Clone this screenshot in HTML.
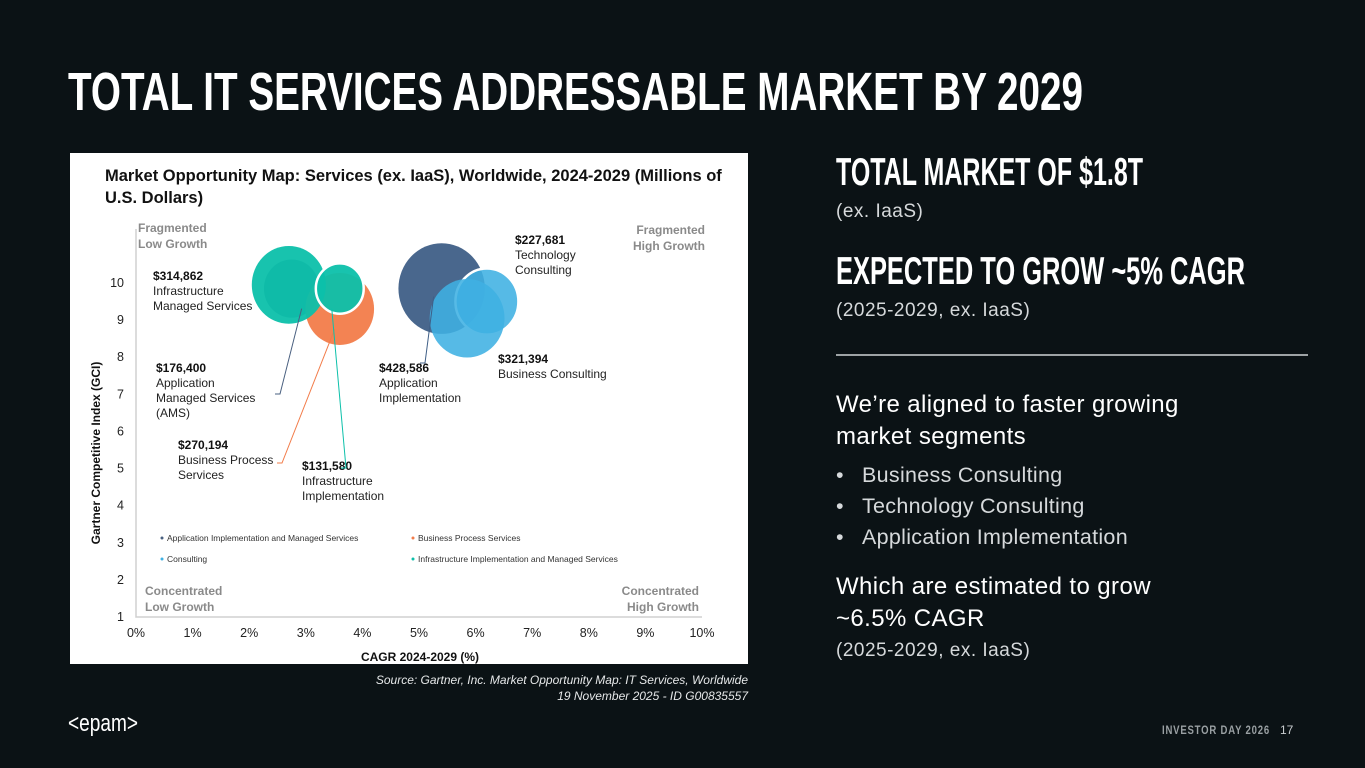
<!DOCTYPE html>
<html><head><meta charset="utf-8"><style>
html,body{margin:0;padding:0;}
body{width:1365px;height:768px;background:#0b1215;position:relative;overflow:hidden;font-family:"Liberation Sans",sans-serif;color:#fff;}
.abs{position:absolute;}
.sub{font-size:19px;color:#d6d9db;letter-spacing:0.5px;}
.body{font-size:24px;color:#fff;line-height:32px;letter-spacing:0.4px;}
.bul{font-size:21.5px;color:#d6d9db;letter-spacing:0.3px;}
.bul span{display:inline-block;width:26px;}
</style></head><body>
<svg class="abs" style="left:0;top:0" width="1365" height="768">
<text x="68" y="110" textLength="1015" lengthAdjust="spacingAndGlyphs" font-family="Liberation Sans Narrow, Liberation Sans, sans-serif" font-weight="bold" font-size="54" fill="#fff">TOTAL IT SERVICES ADDRESSABLE MARKET BY 2029</text>
<text x="836" y="185" textLength="307" lengthAdjust="spacingAndGlyphs" font-family="Liberation Sans Narrow, Liberation Sans, sans-serif" font-weight="bold" font-size="39" fill="#fff">TOTAL MARKET OF $1.8T</text>
<text x="836" y="284" textLength="409" lengthAdjust="spacingAndGlyphs" font-family="Liberation Sans Narrow, Liberation Sans, sans-serif" font-weight="bold" font-size="39" fill="#fff">EXPECTED TO GROW ~5% CAGR</text>
<line x1="836" y1="355" x2="1308" y2="355" stroke="#cfd3d5" stroke-width="1.5"/>
<text x="1162" y="734" textLength="108" lengthAdjust="spacingAndGlyphs" font-family="Liberation Sans Narrow, Liberation Sans, sans-serif" font-weight="bold" font-size="12" fill="#9aa0a3" letter-spacing="1">INVESTOR DAY 2026</text>
<text x="1280" y="734" font-size="12" fill="#c8cccf">17</text>
<text x="68" y="731" textLength="70" lengthAdjust="spacingAndGlyphs" font-size="24" fill="#fff">&lt;epam&gt;</text>
</svg>
<div class="abs sub" style="left:836px;top:201px">(ex. IaaS)</div>
<div class="abs sub" style="left:836px;top:300px">(2025-2029, ex. IaaS)</div>
<div class="abs body" style="left:836px;top:389px">We’re aligned to faster growing<br>market segments</div>
<div class="abs bul" style="left:836px;top:460px;line-height:31px">
<div><span>•</span>Business Consulting</div>
<div><span>•</span>Technology Consulting</div>
<div><span>•</span>Application Implementation</div>
</div>
<div class="abs body" style="left:836px;top:571px">Which are estimated to grow<br>~6.5% CAGR</div>
<div class="abs sub" style="left:836px;top:640px">(2025-2029, ex. IaaS)</div>
<div class="abs" style="right:617px;top:672px;text-align:right;font-size:12px;font-style:italic;color:#e6e8e9;line-height:16px">Source: Gartner, Inc. Market Opportunity Map: IT Services, Worldwide<br>19 November 2025 - ID G00835557</div>

<svg id="chart" class="abs" style="left:70px;top:153px" width="678" height="511"></svg>
<script>
const labels=["Infrastructure Managed Services","Application Managed Services","Business Process Services","Infrastructure Implementation","Application Implementation","Business Consulting","Technology Consulting"];
const valuesM=[314862,176400,270194,131580,428586,321394,227681];
const cagr=[2.7,2.75,3.6,3.6,5.4,5.85,6.2];
const gci=[9.95,9.85,9.3,9.85,9.85,9.05,9.5];
const colors=["#0cc0aa","#4a6080","#f27c4a","#0cc0aa","#3f5f87","#3fb1e3","#3fb1e3"];
const xTicks=[0,1,2,3,4,5,6,7,8,9,10];
const yTicks=[1,2,3,4,5,6,7,8,9,10];
const NS="http://www.w3.org/2000/svg";
const svg=document.getElementById('chart');
const X0=66,X1=632,Y0=464,Y1=130;
const xs=v=>X0+(v/10)*(X1-X0);
const ys=v=>Y0-(v-1)/9*(Y0-Y1);
const rs=v=>Math.sqrt(v)*0.066;
function mk(tag,a,txt){const e=document.createElementNS(NS,tag);for(const k in a)e.setAttribute(k,a[k]);if(txt!=null)e.textContent=txt;svg.appendChild(e);return e;}
const bg=mk('rect',{x:0,y:0,width:678,height:511,fill:'#fff'});


const t1=mk('text',{x:35,y:28,'font-size':16.5,'font-weight':'bold',fill:'#111'},'Market Opportunity Map: Services (ex. IaaS), Worldwide, 2024-2029 (Millions of');


mk('text',{x:35,y:50,'font-size':16.5,'font-weight':'bold',fill:'#111'},'U.S. Dollars)');
const ax=mk('path',{d:`M${X0} 76 V${Y0} H${X1}`,stroke:'#d0d0d0','stroke-width':1.5,fill:'none'});


xTicks.forEach(t=>{const e=mk('text',{x:xs(t),y:484,'font-size':12.5,'text-anchor':'middle',fill:'#222'},t+'%');

});
yTicks.forEach(t=>{const e=mk('text',{x:54,y:ys(t)+4,'font-size':12.5,'text-anchor':'end',fill:'#222'},t);

});
const xt=mk('text',{x:350,y:508,'font-size':12,'font-weight':'bold','text-anchor':'middle',fill:'#111'},'CAGR 2024-2029 (%)');


const yt=mk('text',{x:0,y:0,'font-size':12,'font-weight':'bold','text-anchor':'middle',fill:'#111',transform:'translate(30,300) rotate(-90)'},'Gartner Competitive Index (GCI)');


[[68,79,'start','Fragmented','Low Growth'],[635,81,'end','Fragmented','High Growth'],[75,442,'start','Concentrated','Low Growth'],[629,442,'end','Concentrated','High Growth']].forEach(q=>{
const e=mk('text',{x:q[0],y:q[1],'font-size':12,'font-weight':'bold','text-anchor':q[2],fill:'#8a8a8a'},q[3]);


mk('text',{x:q[0],y:q[1]+16,'font-size':12,'font-weight':'bold','text-anchor':q[2],fill:'#8a8a8a'},q[4]);});
const order=[4,6,5,1,2,0,3];
order.forEach(i=>{const c=mk('ellipse',{cx:xs(cagr[i]),cy:ys(gci[i]),rx:rs(valuesM[i]),ry:rs(valuesM[i])*1.05,fill:colors[i],'fill-opacity':(i>=5?0.88:0.95),stroke:'#fff','stroke-width':(i==3||i==6)?2.5:0});

});
const lab=[[83,127],[86,219],[108,296],[232,317],[309,219],[428,210],[445,91]];
const leaderCol=['#4a6080','#4a6080','#f27c4a','#0cc0aa','#3f5f87','',''];
const lines=[["Infrastructure","Managed Services"],["Application","Managed Services","(AMS)"],["Business Process","Services"],["Infrastructure","Implementation"],["Application","Implementation"],["Business Consulting"],["Technology","Consulting"]];
lab.forEach((p,i)=>{const e=mk('text',{x:p[0],y:p[1],'font-size':12,'font-weight':'bold',fill:'#111'},'$'+valuesM[i].toLocaleString('en-US'));


lines[i].forEach((l,j)=>mk('text',{x:p[0],y:p[1]+15*(j+1),'font-size':12,fill:'#222'},l));});
[[1,210,241,xs(cagr[1])+10,ys(gci[1])+20],[2,212,310,xs(cagr[2])-5,ys(gci[2])+20],[3,276,315,xs(cagr[3])-8,ys(gci[3])+20],[4,355,210,xs(cagr[4])-8,ys(gci[4])+8]].forEach(l=>{
const e=mk('polyline',{points:`${l[1]-5},${l[2]} ${l[1]},${l[2]} ${l[3]},${l[4]}`,fill:'none',stroke:leaderCol[l[0]],'stroke-width':1});

});
const legend=[["Application Implementation and Managed Services","#4a6080",92,388],["Business Process Services","#f27c4a",343,388],["Consulting","#3fb1e3",92,409],["Infrastructure Implementation and Managed Services","#0cc0aa",343,409]];
legend.forEach(l=>{const d=mk('circle',{cx:l[2],cy:l[3]-3,r:1.5,fill:l[1]});


const e=mk('text',{x:l[2]+5,y:l[3],'font-size':8.5,fill:'#333'},l[0]);

});
</script>
</body></html>
